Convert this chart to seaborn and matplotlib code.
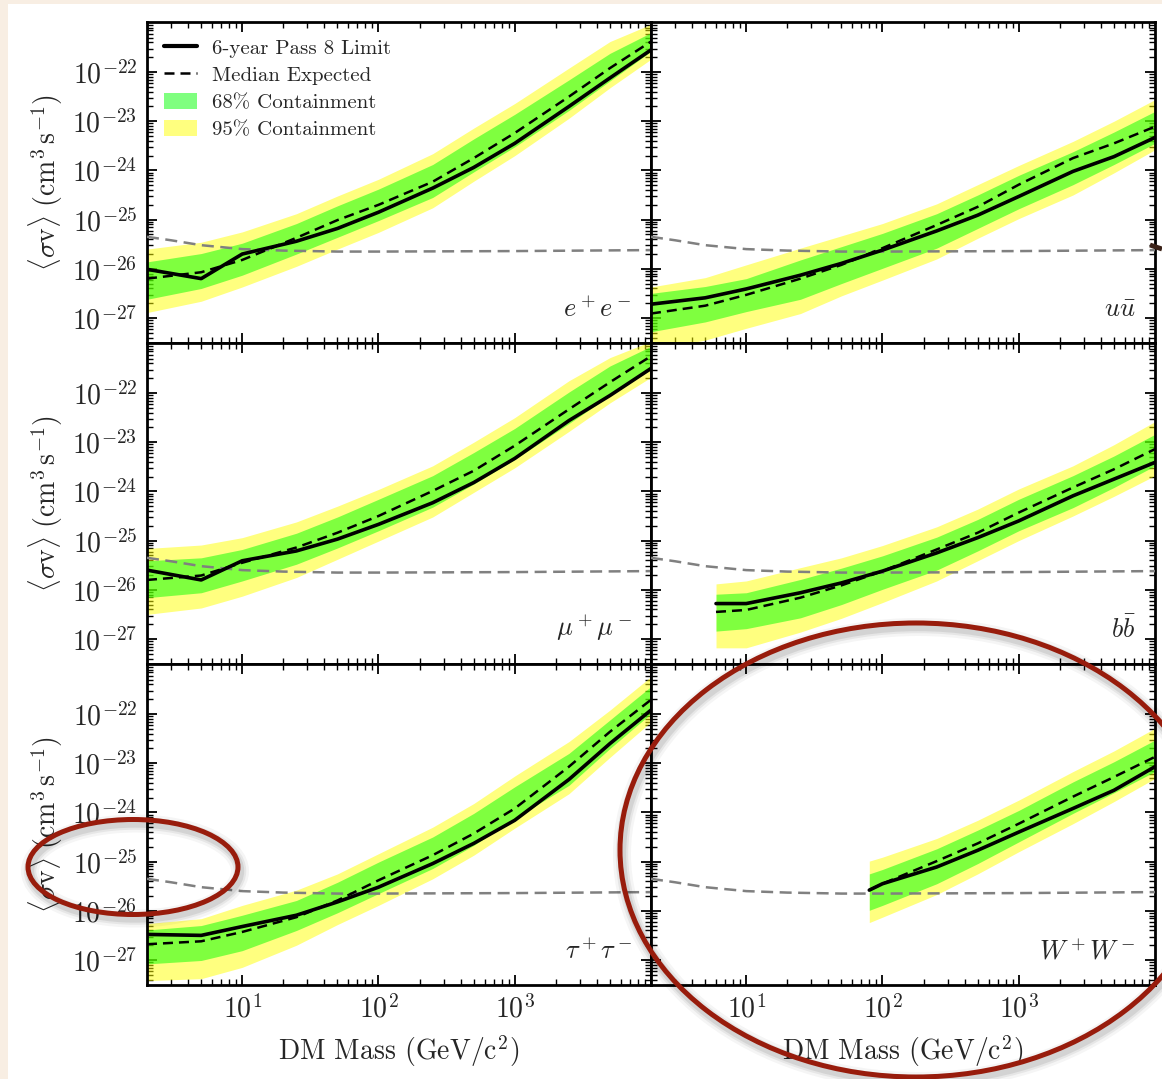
import numpy as np
import pandas as pd
import matplotlib
matplotlib.use("Agg")
import matplotlib.pyplot as plt
import seaborn as sns
from matplotlib.patches import Ellipse, Rectangle, Patch
from matplotlib.lines import Line2D
from matplotlib.ticker import LogLocator, NullFormatter, FixedLocator

# ---------------- data (log10 of <sigma v> in cm^3 s^-1) ----------------
mass_light = [2, 5, 10, 25, 50, 100, 250, 500, 1000, 2500, 5000, 10000]
mass_bb = [6, 10, 25, 50, 100, 250, 500, 1000, 2500, 5000, 10000]
mass_ww = [80, 100, 250, 500, 1000, 2500, 5000, 10000]

ee_limit = [-26.01, -26.20, -25.70, -25.44, -25.18, -24.85, -24.36, -23.94, -23.45, -22.70, -22.12, -21.55]
ee_median = [-26.20, -26.07, -25.82, -25.37, -25.01, -24.70, -24.23, -23.75, -23.24, -22.50, -21.92, -21.38]
ee_g_hi = [-25.86, -25.69, -25.48, -25.08, -24.72, -24.38, -23.88, -23.36, -22.86, -22.16, -21.62, -21.20]
ee_g_lo = [-26.62, -26.40, -26.13, -25.70, -25.36, -25.02, -24.55, -24.03, -23.52, -22.78, -22.18, -21.58]
ee_y_hi = [-25.60, -25.46, -25.25, -24.88, -24.52, -24.18, -23.66, -23.14, -22.64, -21.92, -21.38, -21.03]
ee_y_lo = [-26.89, -26.66, -26.37, -25.95, -25.60, -25.26, -24.76, -24.22, -23.70, -22.94, -22.32, -21.74]

uu_limit = [-26.72, -26.59, -26.41, -26.13, -25.89, -25.62, -25.23, -24.91, -24.53, -24.02, -23.72, -23.33]
uu_median = [-26.91, -26.75, -26.53, -26.20, -25.92, -25.58, -25.11, -24.74, -24.29, -23.75, -23.45, -23.11]
uu_g_hi = [-26.50, -26.36, -26.20, -25.82, -25.55, -25.28, -24.88, -24.50, -24.10, -23.62, -23.22, -22.80]
uu_g_lo = [-27.28, -27.08, -26.87, -26.62, -26.30, -25.99, -25.58, -25.18, -24.78, -24.29, -23.88, -23.45]
uu_y_hi = [-26.37, -26.18, -25.92, -25.58, -25.33, -25.08, -24.68, -24.29, -23.90, -23.41, -23.00, -22.56]
uu_y_lo = [-27.65, -27.45, -27.21, -26.91, -26.55, -26.23, -25.80, -25.38, -24.98, -24.50, -24.05, -23.58]

mu_limit = [-25.60, -25.80, -25.41, -25.21, -24.97, -24.67, -24.23, -23.82, -23.33, -22.56, -22.05, -21.50]
mu_median = [-25.80, -25.71, -25.45, -25.14, -24.84, -24.50, -23.99, -23.58, -23.07, -22.33, -21.78, -21.25]
mu_g_hi = [-25.41, -25.35, -25.18, -24.85, -24.52, -24.16, -23.68, -23.21, -22.72, -21.98, -21.45, -21.05]
mu_g_lo = [-26.16, -26.06, -25.82, -25.48, -25.15, -24.80, -24.32, -23.85, -23.35, -22.62, -22.05, -21.52]
mu_y_hi = [-25.16, -25.09, -24.94, -24.62, -24.30, -23.96, -23.48, -23.00, -22.50, -21.75, -21.28, -20.95]
mu_y_lo = [-26.50, -26.37, -26.13, -25.75, -25.38, -25.01, -24.52, -24.02, -23.52, -22.78, -22.20, -21.68]

bb_limit = [-26.28, -26.28, -26.06, -25.86, -25.62, -25.25, -24.94, -24.60, -24.09, -23.75, -23.41]
bb_median = [-26.45, -26.41, -26.16, -25.91, -25.62, -25.18, -24.84, -24.43, -23.92, -23.55, -23.14]
bb_g_hi = [-26.09, -26.06, -25.79, -25.56, -25.31, -24.93, -24.57, -24.16, -23.68, -23.28, -22.84]
bb_g_lo = [-26.84, -26.79, -26.57, -26.30, -25.99, -25.60, -25.21, -24.80, -24.33, -23.92, -23.48]
bb_y_hi = [-25.88, -25.82, -25.55, -25.35, -25.10, -24.72, -24.36, -23.95, -23.48, -23.05, -22.58]
bb_y_lo = [-27.18, -27.18, -26.86, -26.58, -26.26, -25.82, -25.41, -25.00, -24.50, -24.10, -23.68]

tt_limit = [-26.48, -26.50, -26.32, -26.09, -25.82, -25.52, -25.04, -24.63, -24.16, -23.33, -22.60, -21.92]
tt_median = [-26.68, -26.62, -26.43, -26.13, -25.79, -25.38, -24.87, -24.43, -23.92, -23.07, -22.36, -21.71]
tt_g_hi = [-26.39, -26.30, -26.09, -25.79, -25.42, -25.01, -24.50, -24.02, -23.48, -22.80, -22.12, -21.44]
tt_g_lo = [-27.08, -27.01, -26.81, -26.40, -26.04, -25.65, -25.14, -24.67, -24.12, -23.45, -22.70, -21.99]
tt_y_hi = [-26.26, -26.16, -25.89, -25.58, -25.25, -24.84, -24.30, -23.82, -23.26, -22.56, -21.92, -21.24]
tt_y_lo = [-27.42, -27.38, -27.15, -26.70, -26.28, -25.89, -25.35, -24.87, -24.32, -23.62, -22.88, -22.16]

ww_limit = [-25.58, -25.45, -25.11, -24.77, -24.40, -23.92, -23.55, -23.07]
ww_median = [-25.58, -25.45, -24.99, -24.63, -24.23, -23.68, -23.28, -22.87]
ww_g_hi = [-25.25, -25.16, -24.74, -24.36, -23.96, -23.38, -22.97, -22.53]
ww_g_lo = [-25.99, -25.89, -25.45, -25.04, -24.60, -24.02, -23.60, -23.17]
ww_y_hi = [-24.99, -24.91, -24.53, -24.16, -23.75, -23.17, -22.75, -22.29]
ww_y_lo = [-26.24, -26.13, -25.67, -25.25, -24.80, -24.23, -23.78, -23.31]

relic_mass = [2, 3, 5, 10, 20, 50, 100, 1000, 10000]
relic_log = [-25.35, -25.42, -25.52, -25.60, -25.63, -25.65, -25.65, -25.64, -25.62]

channel_labels = [r"$e^+e^-$", r"$u\bar{u}$", r"$\mu^+\mu^-$", r"$b\bar{b}$", r"$\tau^+\tau^-$", r"$W^+W^-$"]
legend_labels = ["6-year Pass 8 Limit", "Median Expected", "68% Containment", "95% Containment"]
xtick_vals = [10, 100, 1000]
ytick_vals = [1e-27, 1e-26, 1e-25, 1e-24, 1e-23, 1e-22]

panels = [
    (mass_light, ee_limit, ee_median, ee_g_lo, ee_g_hi, ee_y_lo, ee_y_hi),
    (mass_light, uu_limit, uu_median, uu_g_lo, uu_g_hi, uu_y_lo, uu_y_hi),
    (mass_light, mu_limit, mu_median, mu_g_lo, mu_g_hi, mu_y_lo, mu_y_hi),
    (mass_bb, bb_limit, bb_median, bb_g_lo, bb_g_hi, bb_y_lo, bb_y_hi),
    (mass_light, tt_limit, tt_median, tt_g_lo, tt_g_hi, tt_y_lo, tt_y_hi),
    (mass_ww, ww_limit, ww_median, ww_g_lo, ww_g_hi, ww_y_lo, ww_y_hi),
]

# ---------------- style ----------------
sns.set_theme(style="ticks")
plt.rcParams.update({
    "font.family": ["cmr10", "DejaVu Serif"],
    "mathtext.fontset": "cm",
    "axes.unicode_minus": False,
    "axes.formatter.use_mathtext": True,
    "axes.linewidth": 2.0,
    "axes.edgecolor": "black",
})

W, H = 1162, 1079
PEACH = "#f8eee3"
fig = plt.figure(figsize=(W / 100, H / 100), dpi=100, facecolor=PEACH)
fig.add_artist(Rectangle((8 / W, 0), 1, 1 - 4 / H, transform=fig.transFigure,
                         facecolor="white", edgecolor="none", zorder=-10))

axes = fig.subplots(3, 2, sharex=True, sharey=True,
                    gridspec_kw=dict(hspace=0, wspace=0))
fig.subplots_adjust(left=147 / W, right=1155 / W, top=1 - 22 / H, bottom=1 - 985 / H)

ylabel = r"$\langle\sigma\mathrm{v}\rangle\ (\mathrm{cm}^3\,\mathrm{s}^{-1})$"

for i, (ax, data, lab) in enumerate(zip(axes.flat, panels, channel_labels)):
    m, lim, med, glo, ghi, ylo, yhi = data
    m = np.asarray(m, float)
    ax.set_xscale("log")
    ax.set_yscale("log")
    ax.set_facecolor("white")
    ax.fill_between(m, 10 ** np.asarray(ylo), 10 ** np.asarray(yhi),
                    color="yellow", alpha=0.5, lw=0, zorder=1)
    ax.fill_between(m, 10 ** np.asarray(glo), 10 ** np.asarray(ghi),
                    color="lime", alpha=0.5, lw=0, zorder=2)
    sns.lineplot(x=relic_mass, y=10 ** np.asarray(relic_log), ax=ax, color="gray",
                 lw=1.8, linestyle=(0, (4.8, 2.6)), estimator=None, sort=False,
                 legend=False, zorder=3)
    sns.lineplot(x=m, y=10 ** np.asarray(med), ax=ax, color="black", lw=1.8,
                 linestyle=(0, (4.0, 2.4)), estimator=None, sort=False,
                 legend=False, zorder=4)
    sns.lineplot(x=m, y=10 ** np.asarray(lim), ax=ax, color="black", lw=2.6,
                 estimator=None, sort=False, legend=False, zorder=5)
    ax.set_xlim(2, 1e4)
    ax.set_ylim(3.1e-28, 1.04e-21)
    ax.xaxis.set_major_locator(FixedLocator(xtick_vals))
    ax.xaxis.set_minor_locator(LogLocator(base=10, subs=np.arange(2, 10), numticks=50))
    ax.yaxis.set_major_locator(FixedLocator(ytick_vals))
    ax.yaxis.set_minor_locator(LogLocator(base=10, subs=np.arange(2, 10), numticks=50))
    ax.xaxis.set_minor_formatter(NullFormatter())
    ax.yaxis.set_minor_formatter(NullFormatter())
    ax.tick_params(which="both", direction="in", top=True, right=True,
                   labelsize=20, color="black")
    ax.tick_params(which="major", length=7.5, width=1.3, pad=7)
    ax.tick_params(which="minor", length=4, width=1.0)
    for s in ax.spines.values():
        s.set_linewidth(2.0)
        s.set_color("black")
    ax.text(0.962, 0.065, lab, transform=ax.transAxes, ha="right", va="bottom",
            fontsize=19, zorder=6)
    ax.set_xlabel("")
    ax.set_ylabel("")
    if i % 2 == 0:
        ax.set_ylabel(ylabel, fontsize=20)
        ax.yaxis.set_label_coords(-0.163, 0.5)
    if i >= 4:
        ax.set_xlabel(r"DM Mass (GeV/c$^2$)", fontsize=20)
        ax.xaxis.set_label_coords(0.5, -0.15)

handles = [Line2D([], [], color="black", lw=3.0),
           Line2D([], [], color="black", lw=1.8, linestyle=(0, (4.0, 2.4))),
           Patch(facecolor="lime", alpha=0.5, edgecolor="none"),
           Patch(facecolor="yellow", alpha=0.5, edgecolor="none")]
axes[0, 0].legend(handles, legend_labels, loc="upper left", frameon=False,
                  fontsize=15, handlelength=1.6, handletextpad=0.72,
                  labelspacing=0.38, handleheight=0.8, borderaxespad=0.4)

# ---------------- overlay annotations (red ellipses) ----------------
ov = fig.add_axes([0, 0, 1, 1], zorder=20)
ov.set_xlim(0, W)
ov.set_ylim(H, 0)
ov.axis("off")
ov.patch.set_alpha(0)
RED = "#981c0c"
for (cx, cy, ew, eh) in [(133, 867, 210, 95), (916, 850, 592, 454)]:
    for lw, a in [(13, 0.04), (9, 0.06), (6, 0.08)]:
        ov.add_patch(Ellipse((cx + 2, cy + 4), ew, eh, fill=False,
                             edgecolor=(0, 0, 0, a), lw=lw))
    ov.add_patch(Ellipse((cx, cy), ew, eh, fill=False, edgecolor=RED, lw=3.6))
ov.plot([1150, 1162], [245, 249], color="#3b2218", lw=3.5, solid_capstyle="butt")

fig.savefig("out.png", dpi=100, facecolor=PEACH)
